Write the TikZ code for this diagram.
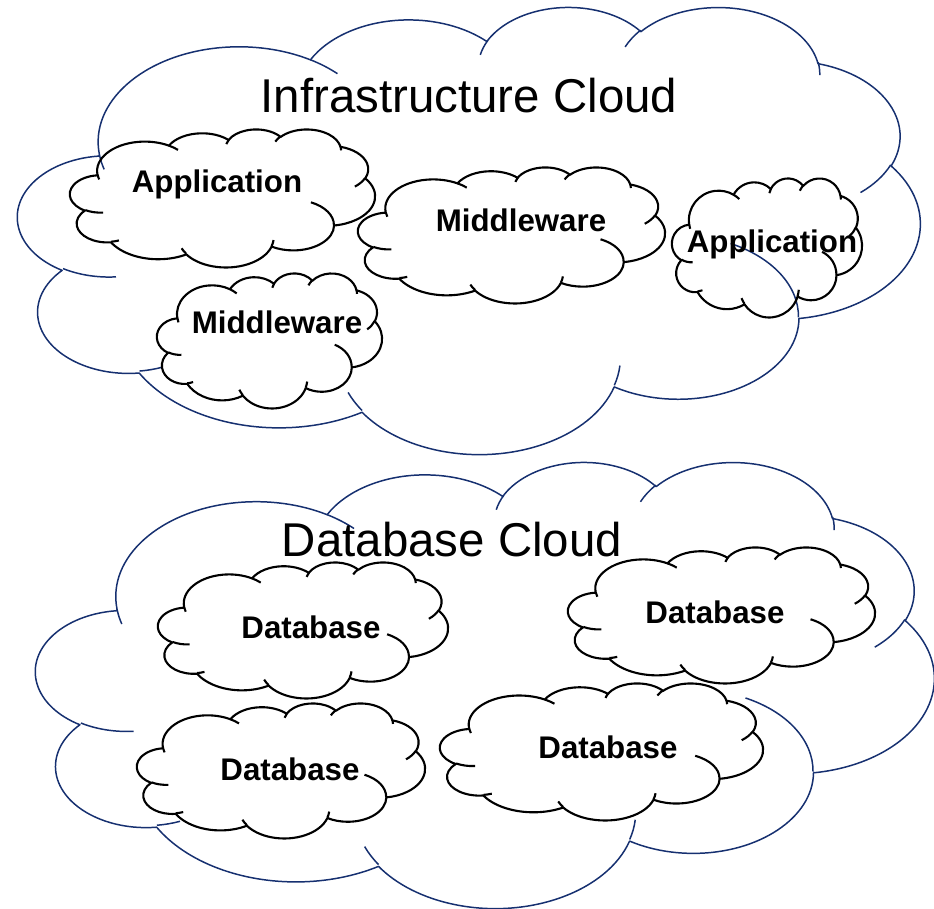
\documentclass[tikz,border=0pt]{standalone}
\usepackage{fontspec}
\setmainfont{Liberation Sans}
\usepackage{tikz}
\definecolor{navy}{RGB}{22,48,112}
% office cloud outline, drawn in a 43.2 x 43.2 box and stretched to w x h
\newcommand{\cloudshape}[5]{
  \begin{scope}[shift={(#2,#3)},xscale=#4/43.2,yscale=#5/43.2]
    \draw[#1] (3.900,14.370)
      \foreach \rw/\rh/\sa/\sw in {6.753/9.190/-190.4875/123.7805,5.333/7.267/-144.1024/89.9452,
        4.365/5.945/-145.8079/99.7230,4.857/6.595/-130.9861/117.2417,5.333/7.273/-78.7089/109.0269,
        6.775/9.220/-46.2673/130.2690,5.785/7.867/0.6250/114.0333,6.752/9.215/22.4516/115.1726,
        7.720/10.543/66.2426/75.7110,4.360/5.918/-274.9421/146.7356,4.345/5.945/-246.8285/152.5189}{
        arc[start angle={atan2(\rw*sin(\sa),\rh*cos(\sa))},
          delta angle={mod(atan2(\rw*sin(\sa+\sw),\rh*cos(\sa+\sw))-atan2(\rw*sin(\sa),\rh*cos(\sa))+720,360)},
          x radius=\rw,y radius=\rh]
      } -- cycle;
    \draw[#1]
      \foreach \px/\py/\rw/\rh/\sa/\sw in {4.693/26.177/4.345/5.945/86.742/26.4295,6.928/34.899/4.360/5.918/73.6105/11.4475,
        16.478/39.090/6.752/9.215/137.6242/14.0811,28.827/34.751/6.752/9.215/6.4533/15.9984,
        34.129/22.954/5.785/7.867/-70.2924/70.9174,41.798/15.354/5.333/7.273/30.3180/27.7515,
        38.324/5.426/4.857/6.595/-13.7443/14.8589,29.078/3.952/4.857/6.595/-149.1815/18.1954,
        22.141/4.720/4.365/5.945/-163.4943/17.6864,14.000/5.192/6.753/9.190/-66.7070/12.3194,
        4.127/15.789/6.753/9.190/157.6544/11.8582}{
        (\px,\py) arc[start angle={atan2(\rw*sin(\sa),\rh*cos(\sa))},
          delta angle={mod(atan2(\rw*sin(\sa+\sw),\rh*cos(\sa+\sw))-atan2(\rw*sin(\sa),\rh*cos(\sa))+720,360)},
          x radius=\rw,y radius=\rh]
      };
  \end{scope}
}
\tikzset{
  bigcloud/.style={navy,line width=0.85pt,line join=round},
  smallcloud/.style={black,line width=1.2pt,line join=round},
  cloudtitle/.style={anchor=base,inner sep=0pt,font=\fontsize{27}{32}\selectfont},
  cloudlabel/.style={anchor=base,inner sep=0pt,font=\fontsize{17.8}{21}\selectfont\bfseries}
}

\begin{document}
\begin{tikzpicture}[x=0.02cm,y=-0.02cm]
\useasboundingbox (0,0) rectangle (934,909);
% the two big clouds
\cloudshape{bigcloud}{18}{6}{902}{447}
\cloudshape{bigcloud}{36}{461}{898}{446}
% clouds inside the infrastructure cloud
\cloudshape{smallcloud}{70}{129}{305}{138}
\cloudshape{smallcloud}{358}{167}{307}{136}
\cloudshape{smallcloud}{672}{178}{190}{139}
\cloudshape{smallcloud}{157}{273}{225}{135}
% clouds inside the database cloud
\cloudshape{smallcloud}{158}{562}{290}{136}
\cloudshape{smallcloud}{568}{547}{307}{136}
\cloudshape{smallcloud}{137}{703}{288}{135}
\cloudshape{smallcloud}{440}{683}{323}{137}

\node[cloudtitle] (infra) at (469,113) {Infrastructure Cloud};
\node[cloudtitle] (dbcloud) at (452,556) {Database Cloud};
\node[cloudlabel] (app1) at (217,193) {Application};
\node[cloudlabel] (mid1) at (521,232) {Middleware};
\node[cloudlabel] (app2) at (772,253) {Application};
\node[cloudlabel] (mid2) at (277,334) {Middleware};
\node[cloudlabel] (db1) at (311,638) {Database};
\node[cloudlabel] (db2) at (715,623) {Database};
\node[cloudlabel] (db3) at (290,780) {Database};
\node[cloudlabel] (db4) at (608,758) {Database};
\end{tikzpicture}
\end{document}
